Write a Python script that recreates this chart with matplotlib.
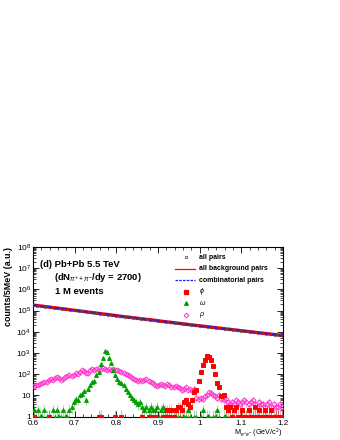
import numpy as np
import matplotlib
matplotlib.use("Agg")
import matplotlib.pyplot as plt
from matplotlib.ticker import LogLocator, MultipleLocator, FixedLocator, NullFormatter

plt.rcParams['font.family'] = ['Liberation Sans', 'DejaVu Sans']
plt.rcParams['mathtext.fontset'] = 'custom'
plt.rcParams['mathtext.rm'] = 'Liberation Sans'
plt.rcParams['mathtext.it'] = 'Liberation Sans:italic'
plt.rcParams['mathtext.bf'] = 'Liberation Sans:bold'

# --- Data (5 MeV bins from 0.6 to 1.2 GeV/c^2) ---
BIN_LO = 0.6
BIN_W = 0.005

# background (all pairs / all background / combinatorial), every 10 MeV
bkg_mass = [0.60, 0.61, 0.62, 0.63, 0.64, 0.65, 0.66, 0.67, 0.68, 0.69,
            0.70, 0.71, 0.72, 0.73, 0.74, 0.75, 0.76, 0.77, 0.78, 0.79,
            0.80, 0.81, 0.82, 0.83, 0.84, 0.85, 0.86, 0.87, 0.88, 0.89,
            0.90, 0.91, 0.92, 0.93, 0.94, 0.95, 0.96, 0.97, 0.98, 0.99,
            1.00, 1.01, 1.02, 1.03, 1.04, 1.05, 1.06, 1.07, 1.08, 1.09,
            1.10, 1.11, 1.12, 1.13, 1.14, 1.15, 1.16, 1.17, 1.18, 1.19, 1.20]
bkg_counts = [1.82e5, 1.72e5, 1.62e5, 1.53e5, 1.45e5, 1.36e5, 1.29e5, 1.22e5, 1.15e5, 1.08e5,
              1.02e5, 9.7e4, 9.1e4, 8.6e4, 8.1e4, 7.7e4, 7.2e4, 6.8e4, 6.5e4, 6.1e4,
              5.75e4, 5.4e4, 5.1e4, 4.85e4, 4.6e4, 4.35e4, 4.1e4, 3.9e4, 3.7e4, 3.5e4,
              3.3e4, 3.1e4, 2.95e4, 2.8e4, 2.65e4, 2.5e4, 2.37e4, 2.24e4, 2.12e4, 2.01e4,
              1.91e4, 1.81e4, 1.72e4, 1.63e4, 1.55e4, 1.47e4, 1.39e4, 1.32e4, 1.25e4, 1.19e4,
              1.12e4, 1.07e4, 1.01e4, 9.6e3, 9.1e3, 8.6e3, 8.2e3, 7.8e3, 7.4e3, 7.0e3, 6.6e3]

phi_counts = [1, 0, 0, 0, 0, 0, 0, 1, 0, 0,
              0, 0, 0, 0, 0, 0, 0, 0, 0, 0,
              0, 0, 0, 0, 0, 0, 0, 0, 0, 0,
              0, 1, 1, 0, 0, 0, 0, 0, 0, 1,
              0, 0, 1, 0, 0, 0, 0, 0, 0, 0,
              0, 0, 1, 0, 0, 1, 1, 0, 1, 0,
              0, 0, 1, 1, 2, 1, 2, 1, 2, 3,
              3, 2, 5, 6, 4, 3, 6, 15, 18, 50,
              130, 270, 480, 700, 650, 480, 250, 100, 37, 25,
              9, 10, 3, 2, 3, 1, 2, 3, 1, 1,
              2, 1, 1, 2, 1, 1, 3, 1, 2, 1,
              1, 2, 1, 1, 2, 1, 1, 1, 1, 1]

omega_counts = [2, 1, 2, 1, 1, 2, 1, 1, 0, 2,
                1, 2, 1, 1, 2, 1, 1, 2, 3, 5,
                7, 6, 10, 12, 16, 6, 20, 30, 45, 50,
                90, 130, 300, 600, 1200, 1100, 600, 350, 150, 90,
                60, 45, 40, 30, 20, 15, 10, 8, 6, 5,
                4, 5, 3, 2, 3, 2, 3, 2, 2, 3,
                1, 2, 3, 2, 1, 2, 1, 1, 2, 1,
                1, 0, 1, 1, 2, 1, 0, 1, 1, 0,
                1, 2, 0, 1, 1, 0, 1, 1, 2, 1,
                0, 1, 1, 0, 1, 1, 0, 1, 0, 1,
                1, 0, 1, 1, 0, 1, 1, 0, 1, 0,
                1, 1, 0, 1, 1, 0, 1, 1, 0, 1]

rho_counts = [28, 32, 30, 36, 40, 45, 42, 55, 60, 52,
              70, 78, 65, 55, 60, 72, 85, 90, 80, 95,
              110, 100, 130, 150, 140, 120, 115, 150, 170, 160,
              180, 200, 170, 190, 175, 160, 170, 165, 175, 160,
              150, 140, 125, 110, 100, 95, 80, 70, 60, 55,
              50, 55, 48, 52, 58, 50, 45, 40, 30, 28,
              32, 35, 30, 28, 34, 30, 26, 25, 27, 24,
              22, 18, 20, 25, 19, 21, 17, 20, 8, 7,
              8, 7, 9, 10, 14, 13, 11, 9, 8, 10,
              7, 6, 7, 5, 4, 5, 4, 6, 5, 4,
              5, 6, 5, 4, 5, 6, 4, 3, 5, 4,
              4, 3, 4, 5, 3, 4, 3, 3, 4, 3]

legend_labels = ["all pairs", "all background pairs", "combinatorial pairs",
                 r"$\phi$", r"$\omega$", r"$\rho$"]

RED = "#ff0000"
GREEN = "#00a000"
MAGENTA = "#ff33cc"


def bin_centers(n):
    return BIN_LO + BIN_W * (np.arange(n) + 0.5)


def draw_signal(ax, counts, color, marker, filled, ms):
    x = bin_centers(len(counts))
    y = np.asarray(counts, dtype=float)
    keep = y > 0
    x, y = x[keep], y[keep]
    err = np.sqrt(y)
    lo = np.minimum(err, y - 1.0 + 1e-9)
    ax.errorbar(x, y, yerr=[lo, err], fmt="none", ecolor=color,
                elinewidth=0.8, alpha=0.35, zorder=3)
    ax.plot(x, y, linestyle="none", marker=marker, ms=ms,
            mfc=color if filled else "none", mec=color, mew=0.7, zorder=4)


fig = plt.figure(figsize=(3.4, 4.4), dpi=100)
ax = fig.add_axes([0.097, 0.053, 0.735, 0.386])

# background curves
ax.plot(bkg_mass, bkg_counts, color="red", lw=2.4, zorder=5)
ax.plot(bkg_mass, bkg_counts, color="#1a1aff", lw=1.5, ls=(0, (2, 1.5)), zorder=6)
ax.plot(bkg_mass, bkg_counts, linestyle="none", marker="o", ms=2.0,
        mfc="none", mec="#444444", mew=0.4, zorder=7)

draw_signal(ax, rho_counts, MAGENTA, "D", False, 2.6)
draw_signal(ax, omega_counts, GREEN, "^", True, 2.8)
draw_signal(ax, phi_counts, RED, "s", True, 2.6)

ax.set_yscale("log")
ax.set_xlim(0.6, 1.2)
ax.set_ylim(1, 1e8)

ax.xaxis.set_major_locator(MultipleLocator(0.1))
ax.xaxis.set_minor_locator(MultipleLocator(0.02))
ax.xaxis.set_major_formatter(plt.FuncFormatter(lambda v, p: f"{v:g}"))
ax.yaxis.set_major_locator(FixedLocator([10.0 ** k for k in range(9)]))
ax.yaxis.set_minor_locator(LogLocator(base=10, subs=np.arange(2, 10), numticks=20))
ax.yaxis.set_minor_formatter(NullFormatter())


def ylab(v, p):
    k = int(round(np.log10(v)))
    if k == 0:
        return "1"
    if k == 1:
        return "10"
    return r"$10^{%d}$" % k


ax.yaxis.set_major_formatter(plt.FuncFormatter(ylab))
ax.tick_params(which="both", direction="in", top=True, right=True, labelsize=6.0)
ax.tick_params(axis="x", pad=2.2, labelsize=5.8)
ax.tick_params(axis="y", pad=1.5)
ax.tick_params(which="major", length=4, width=0.6)
ax.tick_params(which="minor", length=2, width=0.5)
for s in ax.spines.values():
    s.set_linewidth(0.8)

ax.set_ylabel("counts/5MeV (a.u.)", fontsize=6.4, fontweight="bold", labelpad=2)
ax.yaxis.set_label_coords(-0.08, 1.0)
ax.yaxis.label.set_ha("right")
ax.set_xlabel(r"M$_{e^{+}e^{-}}$ (GeV/c$^{2}$)", fontsize=5.2, labelpad=1)
ax.xaxis.set_label_coords(1.0, -0.098)
ax.xaxis.label.set_ha("right")
ax.xaxis.label.set_va("center")

# annotations
ax.text(0.03, 0.895, "(d) Pb+Pb 5.5 TeV", transform=ax.transAxes,
        fontsize=6.8, fontweight="bold", va="center")
ax.text(0.085, 0.82, r"(dN$_{\pi^{+}+\pi^{-}}$/dy = 2700)", transform=ax.transAxes,
        fontsize=6.8, fontweight="bold", va="center")
ax.text(0.09, 0.735, "1 M events", transform=ax.transAxes,
        fontsize=6.8, fontweight="bold", va="center")

# legend, drawn by hand to mimic ROOT layout
leg_y = [0.938, 0.870, 0.802, 0.737, 0.667, 0.599]
mx0, mx1, tx = 0.57, 0.65, 0.665
for i, lab in enumerate(legend_labels):
    y = leg_y[i]
    if i == 0:
        ax.plot([0.614], [y], transform=ax.transAxes, marker="o", ms=1.8,
                mfc="none", mec="#333333", mew=0.5, clip_on=False)
    elif i == 1:
        ax.plot([mx0, mx1], [y, y], transform=ax.transAxes, color="red", lw=0.9)
    elif i == 2:
        ax.plot([mx0, mx1], [y, y], transform=ax.transAxes, color="#1a1aff",
                lw=0.9, ls=(0, (2, 1)))
    elif i == 3:
        ax.plot([0.614], [y], transform=ax.transAxes, marker="s", ms=2.4,
                mfc=RED, mec=RED, linestyle="none")
    elif i == 4:
        ax.plot([0.614], [y], transform=ax.transAxes, marker="^", ms=2.6,
                mfc=GREEN, mec=GREEN, linestyle="none")
    else:
        ax.plot([0.614], [y], transform=ax.transAxes, marker="D", ms=2.4,
                mfc="none", mec=MAGENTA, mew=0.7, linestyle="none")
    ax.text(tx, y, lab, transform=ax.transAxes, fontsize=5, fontweight="bold",
            va="center", ha="left")

fig.savefig("out.png", dpi=100)
